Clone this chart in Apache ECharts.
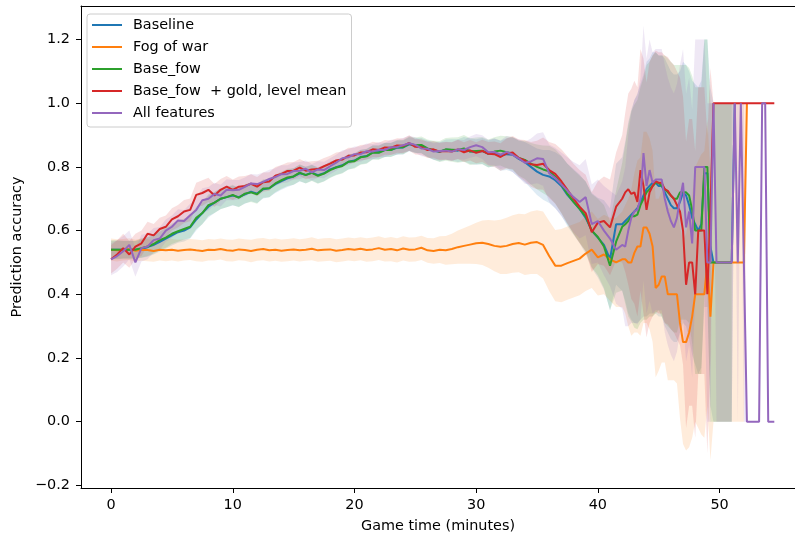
<!DOCTYPE html>
<html>
<head>
<meta charset="utf-8">
<script src="https://cdn.jsdelivr.net/npm/echarts/dist/echarts.min.js"></script>
<style>
html,body{margin:0;padding:0;background:#fff;}
#chart{width:795px;height:535px;}
</style>
</head>
<body>
<div id="chart"></div>
<script>
// ---- data ----
const times = [0,0.5,1,1.5,2,2.5,3,3.5,4,4.5,
5,5.5,6,6.5,7,7.5,8,8.5,9,9.5,
10,10.5,11,11.5,12,12.5,13,13.5,14,14.5,
15,15.5,16,16.5,17,17.5,18,18.5,19,19.5,
20,20.5,21,21.5,22,22.5,23,23.5,24,24.5,
25,25.5,26,26.5,27,27.5,28,28.5,29,29.5,
30,30.5,31,31.5,32,32.5,33,33.5,34,34.5,
35,35.5,36,36.5,37,37.5,38,38.5,39,39.5,
40,40.5,41,41.5,42,
42.25,42.5,42.75,43,43.25,43.5,43.75,44,44.25,44.5,
44.75,45,45.25,45.5,45.75,46,46.25,46.5,46.75,47,
47.25,47.5,47.75,48,48.25,48.5,48.75,49,49.25,49.5,
49.75,50,50.25,50.5,50.75,51,51.25,51.5,51.75,52,
52.25,52.5,52.75,53,53.25,53.5,53.75,54,54.25,54.5];

const seriesNames = ['Baseline','Fog of war','Base_fow','Base_fow  + gold, level mean','All features'];
const seriesColors = ['#1f77b4','#ff7f0e','#2ca02c','#d62728','#9467bd'];

const baseline = [0.54,0.54,0.54,0.54,0.54,0.543,0.548,0.555,0.565,0.575,
0.585,0.595,0.60,0.61,0.635,0.655,0.675,0.688,0.70,0.705,
0.71,0.705,0.714,0.722,0.716,0.73,0.733,0.746,0.755,0.764,
0.77,0.78,0.775,0.782,0.774,0.78,0.792,0.799,0.805,0.816,
0.82,0.831,0.834,0.846,0.846,0.854,0.854,0.86,0.861,0.871,
0.866,0.867,0.857,0.851,0.847,0.854,0.853,0.851,0.856,0.849,
0.847,0.85,0.841,0.845,0.835,0.84,0.838,0.825,0.815,0.80,
0.785,0.775,0.77,0.758,0.74,0.712,0.69,0.668,0.64,0.60,
0.578,0.555,0.51,0.62,0.62,
0.63,0.64,0.65,0.66,0.67,0.69,0.71,0.73,0.74,0.75,
0.75,0.74,0.74,0.72,0.70,0.68,0.67,0.67,0.69,0.72,
0.71,0.68,0.64,0.62,0.60,0.62,0.78,0.78,0.55,0.50,
0.50,0.50,0.50,0.50,0.50,0.50,1.0,null,null,null,
null,null,null,null,null,null,null,null,null,null];

const fogOfWar = [0.54,0.538,0.54,0.542,0.537,0.54,0.539,0.536,0.54,0.538,
0.54,0.537,0.539,0.541,0.538,0.536,0.54,0.539,0.542,0.538,
0.537,0.541,0.539,0.536,0.54,0.542,0.538,0.54,0.537,0.539,
0.541,0.538,0.54,0.543,0.538,0.54,0.541,0.537,0.539,0.542,
0.54,0.543,0.539,0.541,0.545,0.54,0.542,0.538,0.544,0.54,
0.541,0.546,0.538,0.536,0.54,0.538,0.542,0.548,0.552,0.556,
0.56,0.562,0.558,0.552,0.549,0.552,0.558,0.561,0.556,0.562,
0.564,0.555,0.52,0.49,0.49,0.498,0.505,0.512,0.528,0.54,
0.516,0.525,0.51,0.50,0.51,
0.51,0.50,0.50,0.53,0.55,0.55,0.61,0.61,0.59,0.55,
0.42,0.43,0.456,0.456,0.40,0.40,0.40,0.40,0.31,0.25,
0.25,0.28,0.33,0.40,0.40,0.40,0.40,0.50,0.33,0.5,
0.5,0.5,0.5,0.5,0.5,0.5,0.5,0.5,0.5,0.5,
1.0,null,null,null,null,null,null,null,null,null];

const baseFow = [0.54,0.54,0.54,0.54,0.54,0.545,0.55,0.558,0.57,0.578,
0.59,0.598,0.605,0.612,0.64,0.655,0.68,0.688,0.70,0.705,
0.712,0.703,0.716,0.72,0.714,0.732,0.733,0.748,0.758,0.767,
0.77,0.782,0.774,0.781,0.772,0.779,0.79,0.798,0.803,0.816,
0.818,0.83,0.833,0.845,0.844,0.853,0.853,0.862,0.862,0.873,
0.868,0.869,0.858,0.852,0.848,0.855,0.854,0.853,0.858,0.848,
0.85,0.851,0.842,0.848,0.851,0.846,0.842,0.828,0.822,0.81,
0.80,0.792,0.786,0.77,0.745,0.715,0.69,0.668,0.645,0.60,
0.58,0.55,0.49,0.565,0.612,
0.62,0.63,0.645,0.645,0.65,0.68,0.70,0.72,0.73,0.74,
0.75,0.75,0.74,0.73,0.72,0.71,0.70,0.70,0.72,0.72,
0.72,0.71,0.665,0.60,0.60,0.60,0.80,0.80,0.50,0.50,
0.50,0.50,0.50,0.50,0.50,0.50,null,null,null,null,
null,null,null,null,null,null,null,null,null,null];

const baseFowGold = [0.51,0.525,0.545,0.525,0.55,0.56,0.59,0.585,0.605,0.612,
0.635,0.645,0.66,0.665,0.712,0.718,0.728,0.71,0.728,0.738,
0.728,0.738,0.74,0.747,0.738,0.752,0.754,0.772,0.778,0.787,
0.788,0.798,0.788,0.792,0.793,0.802,0.81,0.82,0.823,0.835,
0.836,0.845,0.846,0.855,0.853,0.861,0.86,0.867,0.866,0.875,
0.863,0.862,0.853,0.855,0.848,0.85,0.848,0.855,0.846,0.852,
0.844,0.85,0.841,0.84,0.831,0.842,0.845,0.828,0.82,0.808,
0.806,0.81,0.79,0.778,0.755,0.728,0.70,0.675,0.655,0.595,
0.625,0.63,0.61,0.675,0.70,
0.72,0.73,0.715,0.72,0.69,0.79,0.74,0.665,0.72,0.74,
0.755,0.75,0.75,0.73,0.725,0.71,0.70,0.68,0.66,0.60,
0.43,0.50,0.50,0.40,0.60,0.60,0.60,0.40,0.66,1.0,
1.0,1.0,1.0,1.0,1.0,1.0,1.0,1.0,1.0,1.0,
1.0,1.0,1.0,1.0,1.0,1.0,1.0,1.0,1.0,1.0];

const allFeatures = [0.51,0.52,0.535,0.555,0.50,0.545,0.55,0.57,0.575,0.60,
0.612,0.632,0.63,0.648,0.665,0.695,0.70,0.715,0.71,0.728,
0.727,0.728,0.737,0.748,0.746,0.753,0.762,0.768,0.777,0.778,
0.787,0.788,0.794,0.783,0.792,0.79,0.802,0.813,0.827,0.83,
0.84,0.84,0.849,0.848,0.854,0.853,0.862,0.862,0.868,0.874,
0.869,0.858,0.857,0.848,0.85,0.851,0.848,0.855,0.853,0.862,
0.868,0.862,0.846,0.847,0.838,0.847,0.838,0.827,0.813,0.817,
0.827,0.825,0.78,0.765,0.745,0.725,0.705,0.69,0.705,0.62,
0.63,0.60,0.575,0.54,0.555,
0.55,0.60,0.64,0.66,0.665,0.70,0.843,0.74,0.79,0.75,
0.76,0.76,0.76,0.70,0.66,0.63,0.61,0.64,0.70,0.75,
0.61,0.66,0.56,0.80,0.80,0.80,0.80,0.50,0.50,1.0,
0.5,0.5,0.5,0.5,0.5,0.5,1.0,0.5,1.0,0.5,
0,0,0,0,0,1.0,1.0,0,0,0];

// standard deviations (band half-widths)
const baselineSd = [0.028,0.028,0.027,0.027,0.027,0.028,0.03,0.03,0.031,0.032,
0.032,0.033,0.034,0.035,0.035,0.034,0.034,0.033,0.032,0.032,
0.031,0.03,0.03,0.03,0.029,0.029,0.028,0.028,0.027,0.027,
0.026,0.026,0.026,0.025,0.025,0.025,0.025,0.024,0.024,0.024,
0.023,0.023,0.023,0.022,0.022,0.022,0.022,0.022,0.022,0.022,
0.023,0.024,0.026,0.028,0.03,0.032,0.034,0.036,0.038,0.04,
0.04,0.041,0.042,0.044,0.047,0.05,0.054,0.058,0.063,0.068,
0.073,0.078,0.083,0.088,0.093,0.098,0.103,0.108,0.113,0.118,
0.125,0.14,0.16,0.19,0.21,
0.25,0.3,0.33,0.35,0.36,0.37,0.38,0.4,0.4,0.41,
0.41,0.41,0.41,0.42,0.42,0.42,0.42,0.42,0.41,0.41,
0.41,0.42,0.43,0.44,0.45,0.45,0.42,0.42,0.5,0.5,
0.5,0.5,0.5,0.5,0.5,0.5,0,null,null,null,
null,null,null,null,null,null,null,null,null,null];

const fogOfWarSd = [0.035,0.035,0.034,0.034,0.034,0.035,0.035,0.034,0.034,0.034,
0.034,0.034,0.033,0.033,0.034,0.034,0.034,0.033,0.033,0.034,
0.034,0.034,0.034,0.035,0.035,0.035,0.035,0.035,0.035,0.035,
0.035,0.035,0.035,0.036,0.036,0.036,0.036,0.036,0.036,0.036,
0.036,0.036,0.037,0.037,0.037,0.037,0.038,0.038,0.038,0.038,
0.038,0.038,0.039,0.04,0.042,0.045,0.048,0.052,0.056,0.06,
0.065,0.07,0.075,0.08,0.085,0.088,0.09,0.092,0.095,0.098,
0.1,0.105,0.11,0.112,0.115,0.115,0.115,0.115,0.118,0.12,
0.12,0.125,0.13,0.14,0.15,
0.17,0.2,0.23,0.25,0.27,0.28,0.3,0.3,0.3,0.3,
0.28,0.27,0.27,0.27,0.27,0.27,0.27,0.28,0.3,0.32,
0.34,0.36,0.38,0.4,0.42,0.44,0.45,0.45,0.45,0.5,
0.5,0.5,0.5,0.5,0.5,0.5,0.5,0.5,0.5,0.5,
0,null,null,null,null,null,null,null,null,null];

const baseFowSd = [0.03,0.03,0.028,0.028,0.028,0.03,0.03,0.03,0.032,0.032,
0.032,0.033,0.033,0.035,0.035,0.035,0.034,0.033,0.033,0.032,
0.032,0.03,0.03,0.03,0.03,0.029,0.028,0.028,0.027,0.027,
0.026,0.026,0.026,0.025,0.025,0.025,0.025,0.024,0.024,0.024,
0.023,0.023,0.023,0.022,0.022,0.022,0.022,0.022,0.022,0.022,
0.024,0.026,0.028,0.03,0.033,0.036,0.038,0.04,0.042,0.042,
0.042,0.043,0.044,0.045,0.047,0.05,0.052,0.055,0.06,0.065,
0.07,0.075,0.08,0.085,0.09,0.095,0.1,0.105,0.11,0.115,
0.12,0.13,0.14,0.16,0.2,
0.25,0.3,0.33,0.35,0.36,0.37,0.38,0.4,0.4,0.41,
0.41,0.4,0.41,0.42,0.42,0.42,0.42,0.42,0.4,0.4,
0.4,0.4,0.42,0.45,0.45,0.45,0.4,0.4,0.5,0.5,
0.5,0.5,0.5,0.5,0.5,0.5,null,null,null,null,
null,null,null,null,null,null,null,null,null,null];

const baseFowGoldSd = [0.045,0.045,0.045,0.042,0.04,0.04,0.038,0.036,0.035,0.035,
0.035,0.035,0.036,0.036,0.038,0.04,0.038,0.036,0.034,0.033,
0.032,0.032,0.031,0.03,0.03,0.03,0.029,0.028,0.028,0.027,
0.027,0.027,0.027,0.026,0.026,0.026,0.025,0.025,0.025,0.025,
0.024,0.024,0.024,0.024,0.023,0.023,0.023,0.023,0.023,0.024,
0.024,0.025,0.025,0.026,0.027,0.028,0.029,0.03,0.031,0.032,
0.033,0.035,0.037,0.04,0.043,0.047,0.052,0.058,0.064,0.07,
0.076,0.082,0.088,0.094,0.1,0.105,0.11,0.115,0.12,0.125,
0.13,0.14,0.15,0.17,0.2,
0.25,0.3,0.33,0.35,0.36,0.38,0.4,0.4,0.41,0.41,
0.41,0.41,0.41,0.42,0.42,0.42,0.42,0.42,0.42,0.42,
0.45,0.45,0.45,0.45,0.45,0.45,0.45,0.5,0.45,0,
0,0,0,0,0,0,0,0,0,0,
0,0,0,0,0,0,0,0,0,0];

const allFeaturesSd = [0.05,0.05,0.048,0.045,0.045,0.042,0.04,0.038,0.036,0.035,
0.035,0.035,0.035,0.036,0.037,0.038,0.037,0.035,0.034,0.033,
0.032,0.031,0.03,0.03,0.03,0.029,0.029,0.028,0.028,0.027,
0.027,0.027,0.026,0.026,0.026,0.026,0.025,0.025,0.025,0.025,
0.024,0.024,0.024,0.024,0.023,0.023,0.023,0.023,0.023,0.024,
0.024,0.025,0.025,0.026,0.027,0.028,0.029,0.03,0.031,0.033,
0.035,0.037,0.039,0.042,0.045,0.05,0.055,0.06,0.066,0.072,
0.078,0.084,0.09,0.095,0.1,0.105,0.11,0.115,0.12,0.125,
0.13,0.14,0.15,0.17,0.2,
0.25,0.3,0.33,0.35,0.36,0.38,0.4,0.4,0.41,0.41,
0.41,0.41,0.41,0.42,0.42,0.42,0.42,0.42,0.42,0.42,
0.42,0.42,0.42,0.4,0.4,0.4,0.4,0.5,0.5,0,
0.5,0.5,0.5,0.5,0.5,0.5,0,0.5,0,0.5,
0,0,0,0,0,0,0,0,0,0];

const xTicks = [0,10,20,30,40,50];
const yTicks = [-0.2,0,0.2,0.4,0.6,0.8,1.0,1.2];

// ---- chart ----
const means = [baseline, fogOfWar, baseFow, baseFowGold, allFeatures];
const sds = [baselineSd, fogOfWarSd, baseFowSd, baseFowGoldSd, allFeaturesSd];
means.concat(sds).forEach(function(a, k){
  if (a.length !== times.length) throw new Error('length mismatch in array ' + k + ': ' + a.length);
});

const FONT = 'DejaVu Sans';
const FS = 14.4;
const X_MIN = -2.47, X_MAX = 56.2, Y_MIN = -0.208, Y_MAX = 1.305;
function rgba(hex, a){
  const r = parseInt(hex.slice(1,3),16), g = parseInt(hex.slice(3,5),16), b = parseInt(hex.slice(5,7),16);
  return 'rgba(' + r + ',' + g + ',' + b + ',' + a + ')';
}
function fmt(v){
  return v.toFixed(1).replace('-', '\u2212');
}

const series = [];
means.forEach(function(m, k){
  const sd = sds[k];
  series.push({
    type: 'custom',
    name: seriesNames[k] + ' band',
    silent: true,
    z: 1,
    data: [[0, 0]],
    renderItem: function(params, api){
      const upper = [], lower = [];
      for (let i = 0; i < times.length; i++) {
        if (m[i] == null || sd[i] == null) continue;
        upper.push(api.coord([times[i], m[i] + sd[i]]));
        lower.push(api.coord([times[i], m[i] - sd[i]]));
      }
      return {
        type: 'polygon',
        shape: { points: upper.concat(lower.reverse()) },
        style: { fill: rgba(seriesColors[k], 0.15), stroke: null }
      };
    }
  });
});
means.forEach(function(m, k){
  series.push({
    type: 'line',
    name: seriesNames[k],
    data: times.map(function(t, i){ return [t, m[i]]; }),
    showSymbol: false,
    symbol: 'none',
    z: 2 + k,
    color: seriesColors[k],
    lineStyle: { width: 2, color: seriesColors[k] },
    emphasis: { disabled: true }
  });
});

const chart = echarts.init(document.getElementById('chart'), null, { renderer: 'canvas' });
chart.setOption({
  animation: false,
  backgroundColor: '#fff',
  grid: { left: 81, top: 6, width: 714, height: 482, show: false, containLabel: false, outerBoundsMode: 'none' },
  legend: {
    data: seriesNames,
    orient: 'vertical',
    left: 87, top: 14,
    icon: 'rect',
    itemWidth: 30, itemHeight: 2, itemGap: 6,
    padding: [3, 5, 6, 5],
    backgroundColor: 'rgba(255,255,255,0.8)',
    borderColor: '#cccccc', borderWidth: 1, borderRadius: 3,
    textStyle: { fontFamily: FONT, fontSize: FS, color: '#000', lineHeight: 16, padding: [0, 0, 0, 6] }
  },
  xAxis: [{
    type: 'value', min: X_MIN, max: X_MAX,
    name: 'Game time (minutes)', nameLocation: 'middle', nameGap: 31,
    nameTextStyle: { fontFamily: FONT, fontSize: FS, color: '#000' },
    axisLine: { onZero: false, lineStyle: { color: '#000', width: 1 } },
    axisTick: { show: true, length: 5, lineStyle: { color: '#000' }, customValues: xTicks },
    axisLabel: { customValues: xTicks, fontFamily: FONT, fontSize: FS, color: '#000', margin: 10, formatter: function(v){ return String(v); } },
    splitLine: { show: false }
  }, {
    type: 'value', position: 'top', min: X_MIN, max: X_MAX,
    axisLine: { show: true, onZero: false, lineStyle: { color: '#000', width: 1 } },
    axisTick: { show: false }, axisLabel: { show: false }, splitLine: { show: false }
  }],
  yAxis: {
    type: 'value', min: Y_MIN, max: Y_MAX,
    name: 'Prediction accuracy', nameLocation: 'middle', nameGap: 54,
    nameTextStyle: { fontFamily: FONT, fontSize: FS, color: '#000' },
    axisLine: { show: true, onZero: false, lineStyle: { color: '#000', width: 1 } },
    axisTick: { show: true, length: 5, lineStyle: { color: '#000' }, customValues: yTicks },
    axisLabel: { customValues: yTicks, fontFamily: FONT, fontSize: FS, color: '#000', margin: 11, formatter: fmt },
    splitLine: { show: false }
  },
  series: series
});
</script>
</body>
</html>
